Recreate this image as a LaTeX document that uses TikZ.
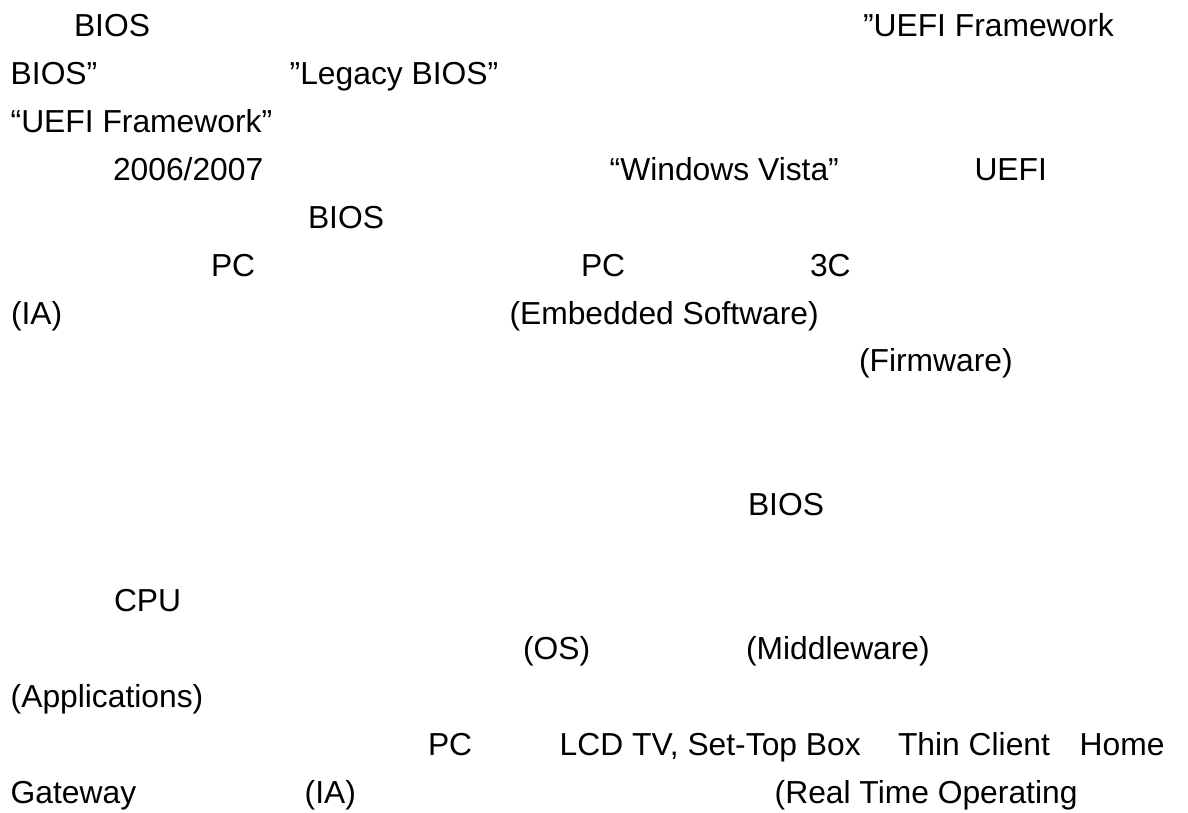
\documentclass[tikz,border=0pt]{standalone}
\usepackage{fontspec}
\setmainfont{Liberation Sans}
\begin{document}
\begin{tikzpicture}[x=1pt,y=1pt,
  txt/.style={anchor=base west,inner sep=0pt,outer sep=0pt,font=\fontsize{31.8}{38}\selectfont}]
\useasboundingbox[fill=white] (0,0) rectangle (1188,812);
% baselines: y = 812 - (36.7 + 47.9 k)
\def\Lz{775.3}
% line 0
\node[txt] (a1) at (74,775.3) {BIOS};
\node[txt] (a2) at (863,775.3) {”UEFI Framework};
% line 1
\node[txt] (b1) at (10.7,727.4) {BIOS”};
\node[txt] (b2) at (289.7,727.4) {”Legacy BIOS”};
% line 2
\node[txt] (c1) at (10.7,679.5) {“UEFI Framework”};
% line 3
\node[txt] (d1) at (113,631.6) {2006/2007};
\node[txt] (d2) at (609.7,631.6) {“Windows Vista”};
\node[txt] (d3) at (974.5,631.6) {UEFI};
% line 4
\node[txt] (e1) at (308,583.7) {BIOS};
% line 5
\node[txt] (f1) at (211,535.8) {PC};
\node[txt] (f2) at (581,535.8) {PC};
\node[txt] (f3) at (810,535.8) {3C};
% line 6
\node[txt] (g1) at (11,487.9) {(IA)};
\node[txt] (g2) at (509.5,487.9) {(Embedded Software)};
% line 7
\node[txt] (h1) at (859,440) {(Firmware)};
% line 10
\node[txt] (k1) at (748,296.3) {BIOS};
% line 12
\node[txt] (m1) at (114,200.5) {CPU};
% line 13
\node[txt] (n1) at (523,152.6) {(OS)};
\node[txt] (n2) at (746,152.6) {(Middleware)};
% line 14
\node[txt] (o1) at (10.7,104.7) {(Applications)};
% line 15
\node[txt] (p1) at (428,56.8) {PC};
\node[txt] (p2) at (559.7,56.8) {LCD TV, Set-Top Box};
\node[txt] (p3) at (898,56.8) {Thin Client};
\node[txt] (p4) at (1079.7,56.8) {Home};
% line 16
\node[txt] (q1) at (10.7,8.9) {Gateway};
\node[txt] (q2) at (304.7,8.9) {(IA)};
\node[txt] (q3) at (774.7,8.9) {(Real Time Operating};
\end{tikzpicture}
\end{document}
